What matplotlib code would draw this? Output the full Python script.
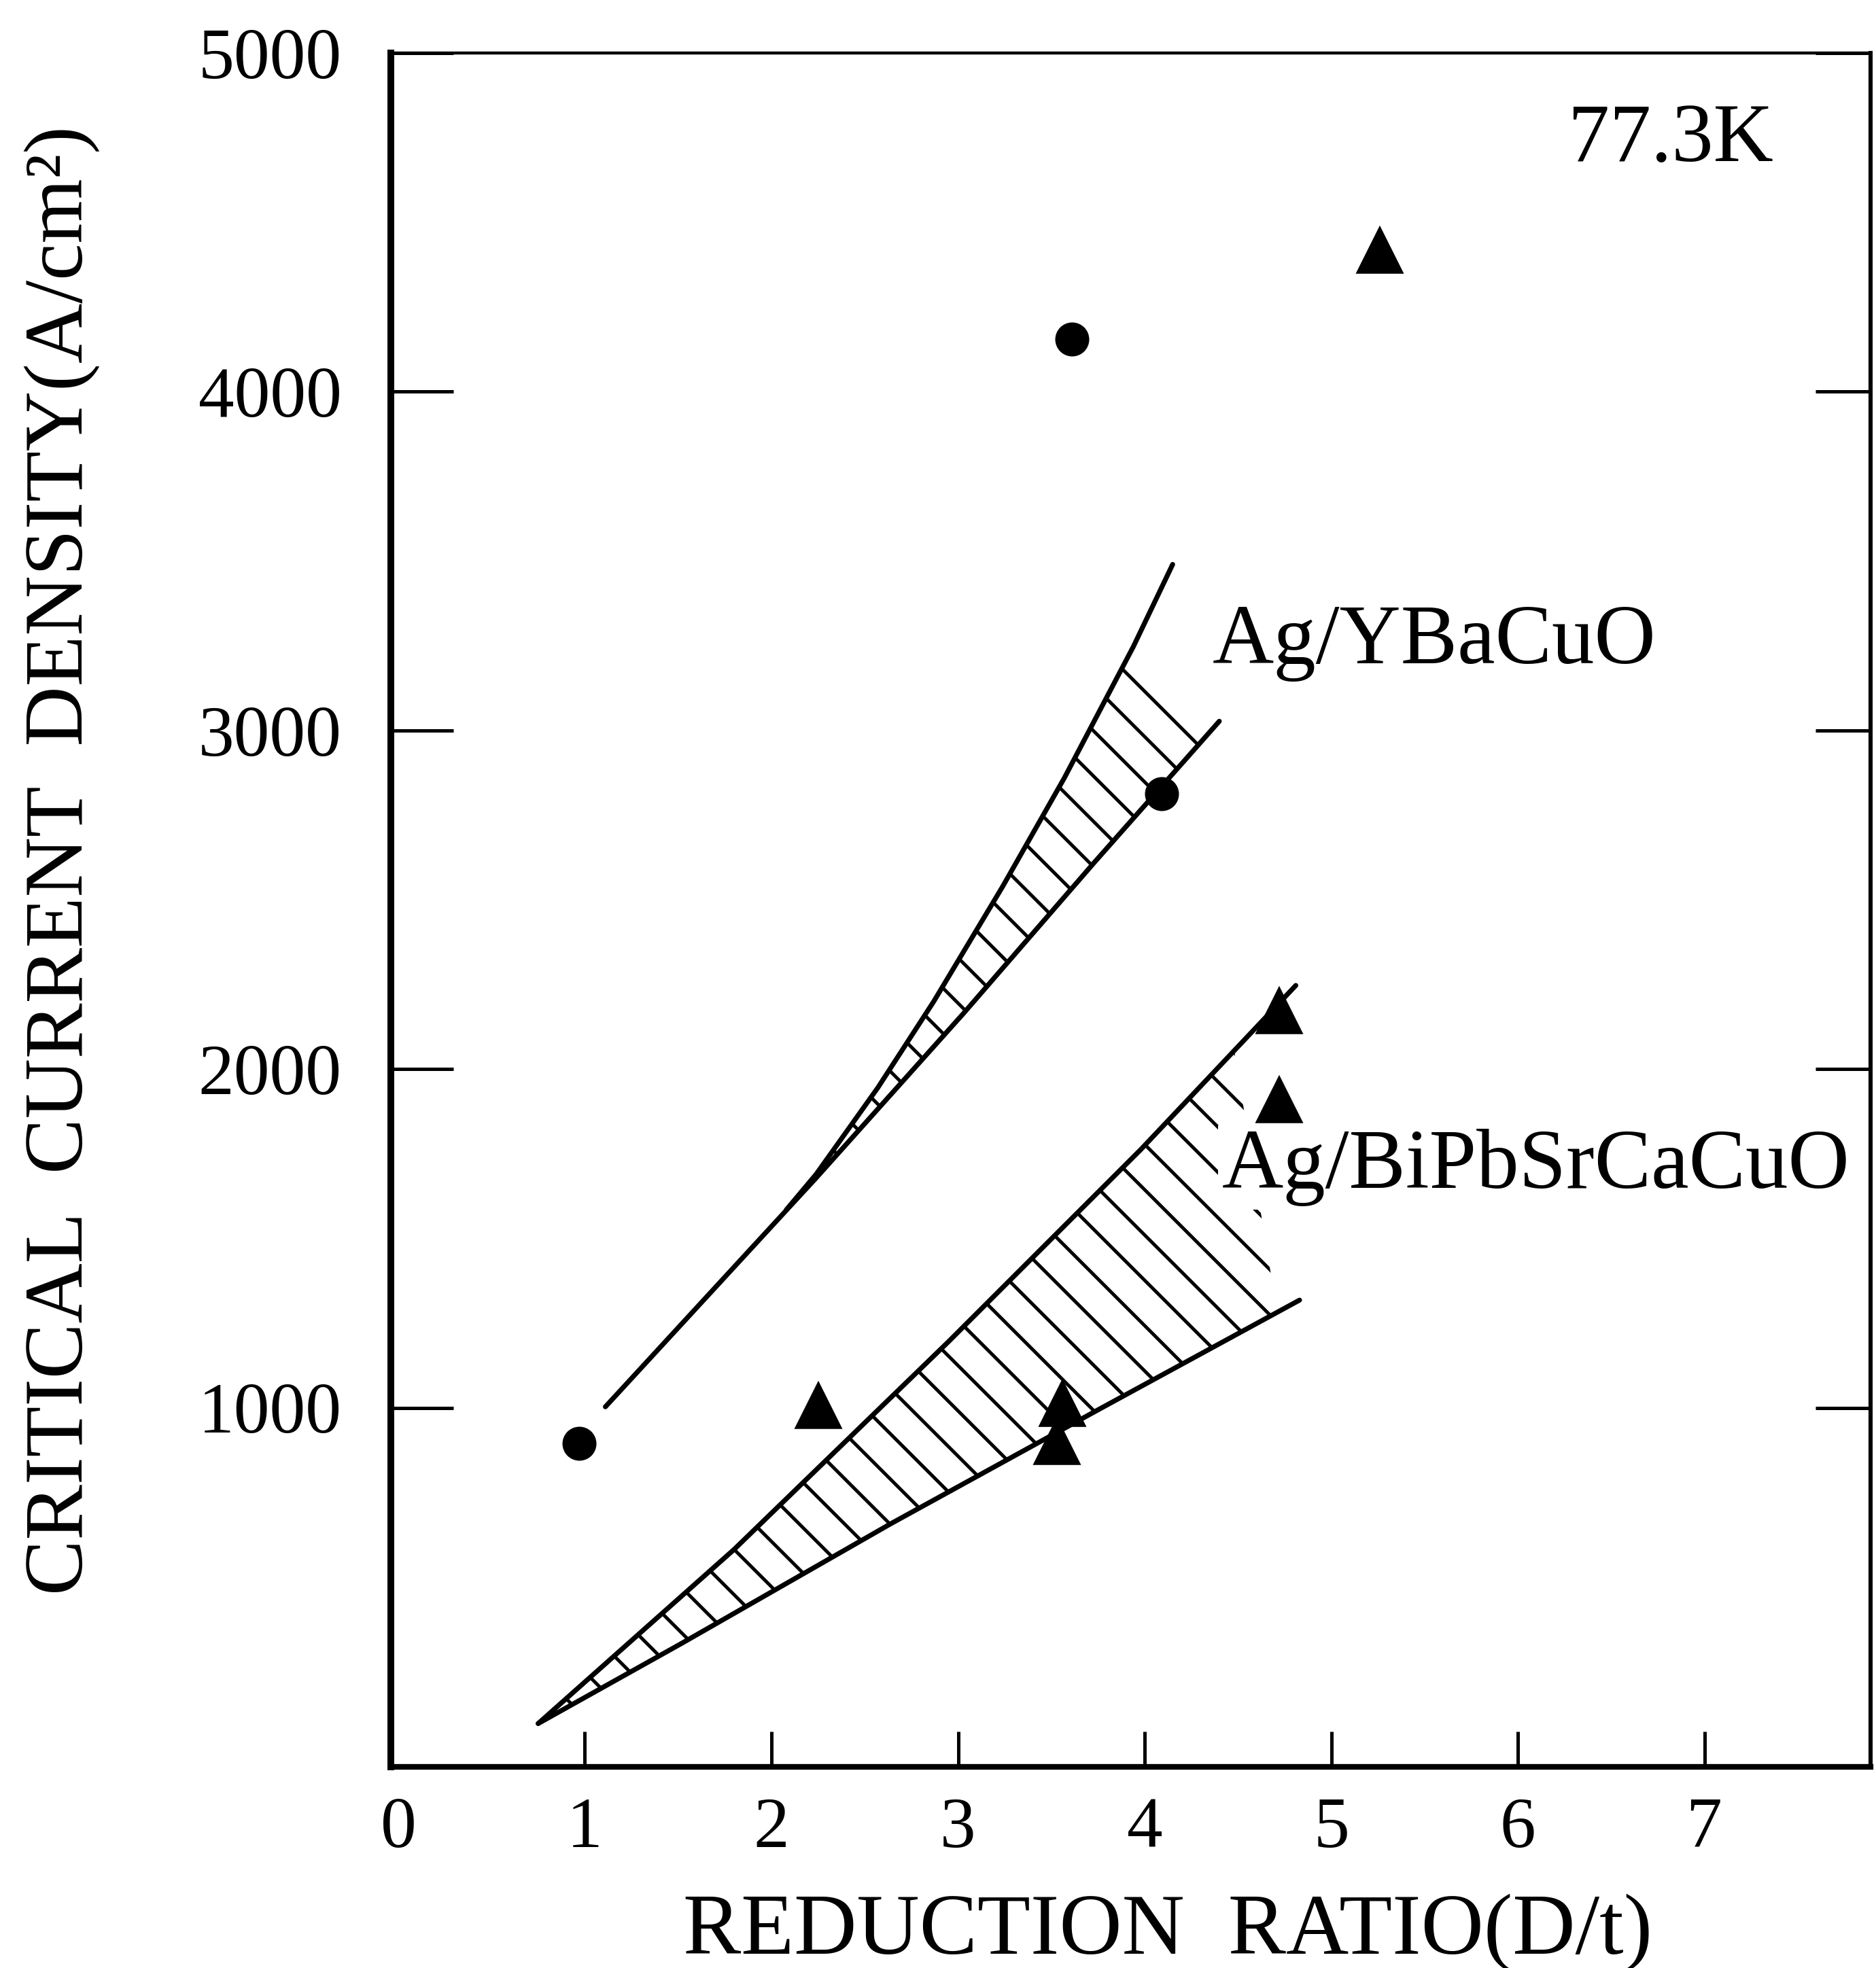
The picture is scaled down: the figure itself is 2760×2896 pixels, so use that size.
# Critical current density vs reduction ratio for Ag-sheathed tapes at 77.3 K.

import numpy as np
import matplotlib.pyplot as plt

plt.rcParams['font.family'] = ['Liberation Serif', 'DejaVu Serif']
plt.rcParams['hatch.linewidth'] = 0.9

# measured points
circle_x = [0.97, 3.61, 4.09]
circle_y = [895, 4155, 2814]
tri_x = [2.25, 3.56, 3.53, 4.72, 4.72, 5.26]
tri_y = [1005, 1011, 900, 2170, 1908, 4415]

# Ag/YBaCuO band
yb_upper_x = [2.08, 2.24, 2.57, 2.87, 3.24, 3.57, 3.94, 4.15]
yb_upper_y = [1585, 1690, 1945, 2200, 2540, 2860, 3248, 3490]
yb_lower_x = [1.11, 2.24, 3.03, 3.73, 4.40]
yb_lower_y = [1003, 1679, 2165, 2610, 3027]
yb_hatch_end = (3.94, 4.32)

# Ag/BiPbSrCaCuO band
bi_upper_x = [0.75, 1.80, 2.95, 3.98, 4.81]
bi_upper_y = [68, 582, 1196, 1763, 2247]
bi_lower_x = [0.75, 1.52, 2.64, 3.76, 4.83]
bi_lower_y = [68, 305, 658, 997, 1318]
bi_hatch_end = (4.48, 4.71)

x_ticks = [0, 1, 2, 3, 4, 5, 6, 7]
y_ticks = [1000, 2000, 3000, 4000, 5000]


def band_polygon(ux, uy, lx, ly, x_top, x_bottom):
    """Outline of the hatched area between two curves."""
    ux, uy = np.asarray(ux), np.asarray(uy)
    lx, ly = np.asarray(lx), np.asarray(ly)
    keep = ux < x_top
    top_x = np.append(ux[keep], x_top)
    top_y = np.append(uy[keep], np.interp(x_top, ux, uy))
    keep = (lx < x_bottom) & (lx >= top_x[0])
    bot_x = np.append(lx[keep], x_bottom)[::-1]
    bot_y = np.append(ly[keep], np.interp(x_bottom, lx, ly))[::-1]
    return np.concatenate([top_x, bot_x]), np.concatenate([top_y, bot_y])


fig = plt.figure(figsize=(6.9, 7.24), dpi=400)
ax = fig.add_axes([0.2083, 0.1022, 0.7888, 0.8709])

for ux, uy, lx, ly, end in [(yb_upper_x, yb_upper_y, yb_lower_x, yb_lower_y, yb_hatch_end),
                            (bi_upper_x, bi_upper_y, bi_lower_x, bi_lower_y, bi_hatch_end)]:
    px, py = band_polygon(ux, uy, lx, ly, *end)
    ax.fill(px, py, facecolor='none', edgecolor='k', hatch='\\\\', linewidth=0, zorder=1)
    ax.plot(ux, uy, color='k', lw=1.3, solid_capstyle='round', solid_joinstyle='round', zorder=2)
    ax.plot(lx, ly, color='k', lw=1.3, solid_capstyle='round', solid_joinstyle='round', zorder=2)

ax.plot(circle_x, circle_y, 'o', ms=8, color='k', linestyle='none', zorder=4)
ax.plot(tri_x, tri_y, '^', ms=11, color='k', linestyle='none', zorder=4)

ax.text(6.27, 4740, '77.3K', fontsize=22, va='center', ha='left')
ax.text(4.365, 3258, 'Ag/YBaCuO', fontsize=22.5, va='center', ha='left', zorder=3,
        bbox=dict(facecolor='white', edgecolor='none', pad=1))
ax.text(4.413, 1709, 'Ag/BiPbSrCaCuO', fontsize=22.5, va='center', ha='left', zorder=3,
        bbox=dict(facecolor='white', edgecolor='none', pad=1))

ax.set_xlim(-0.04, 7.89)
ax.set_ylim(-60, 5000)
ax.set_xticks(x_ticks)
ax.set_yticks(y_ticks)
ax.tick_params(axis='y', direction='in', length=16.5, width=0.9, labelsize=19, pad=13, right=True)
ax.tick_params(axis='x', direction='in', length=9.4, width=0.9, labelsize=19, pad=8)
for t in ax.yaxis.get_major_ticks():
    t.tick2line.set_markersize(14.6)
ax.xaxis.get_major_ticks()[0].tick1line.set_visible(False)

ax.spines['left'].set_linewidth(1.8)
ax.spines['bottom'].set_linewidth(1.5)
ax.spines['top'].set_linewidth(0.8)
ax.spines['right'].set_linewidth(1.1)

ax.set_xlabel('REDUCTION  RATIO(D/t)', fontsize=23)
ax.xaxis.set_label_coords(0.525, -0.0967)
ax.xaxis.label.set_va('center')
ax.set_ylabel('CRITICAL  CURRENT  DENSITY(A/cm²)', fontsize=22)
ax.yaxis.set_label_coords(-0.222, 0.529)
ax.yaxis.label.set_va('center')

fig.savefig('out.png', dpi=400)
